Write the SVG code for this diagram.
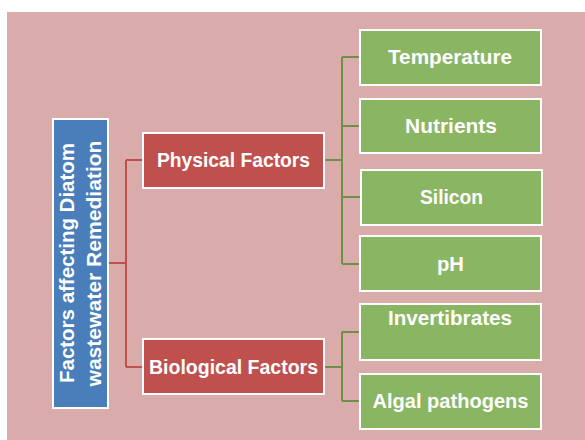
<svg xmlns="http://www.w3.org/2000/svg" width="585" height="440" viewBox="0 0 585 440">
<style>
.t{font-family:"Liberation Sans",Arial,sans-serif;font-weight:bold;font-size:20px;fill:#fff;text-anchor:middle}
.box{stroke:#fff;stroke-width:2}
.red{fill:#C0504D}
.grn{fill:#8AB563}
.blu{fill:#4A7EBB}
.cr{fill:none;stroke:#C0504D;stroke-width:2}
.cg{fill:none;stroke:#6F8F46;stroke-width:2}
</style>
<rect x="0" y="0" width="585" height="440" fill="#fff"/>
<rect x="7" y="12" width="578" height="428" fill="#D9ABAB"/>
<g id="connectors">
<path class="cr" d="M108,263 H126 M126,160 V367 M126,160 H143 M126,367 H143"/>
<path class="cg" d="M324,160 H342 M342,57 V264 M342,57 H360 M342,126 H360 M342,197 H361 M342,264 H360"/>
<path class="cg" d="M324,367 H342 M342,332 V401 M342,332 H360 M342,401 H360"/>
</g>
<g id="root">
<rect class="box blu" x="53" y="119" width="55" height="289"/>
<text class="t" transform="translate(73.5,263) rotate(-90)" textLength="240" lengthAdjust="spacingAndGlyphs">Factors affecting Diatom</text>
<text class="t" transform="translate(100.5,263.5) rotate(-90)" textLength="246" lengthAdjust="spacingAndGlyphs">wastewater Remediation</text>
</g>
<g id="physical">
<rect class="box red" x="143" y="133" width="181" height="55"/>
<text class="t" x="233.5" y="167" textLength="153" lengthAdjust="spacingAndGlyphs">Physical Factors</text>
</g>
<g id="biological">
<rect class="box red" x="143" y="339" width="181" height="55"/>
<text class="t" x="233.5" y="374" textLength="169" lengthAdjust="spacingAndGlyphs">Biological Factors</text>
</g>
<g id="temperature">
<rect class="box grn" x="360" y="30" width="181" height="55"/>
<text class="t" x="450" y="64" textLength="124" lengthAdjust="spacingAndGlyphs">Temperature</text>
</g>
<g id="nutrients">
<rect class="box grn" x="360" y="99" width="181" height="54"/>
<text class="t" x="451" y="133" textLength="92" lengthAdjust="spacingAndGlyphs">Nutrients</text>
</g>
<g id="silicon">
<rect class="box grn" x="361" y="170" width="181" height="55"/>
<text class="t" x="451.5" y="204" textLength="63" lengthAdjust="spacingAndGlyphs">Silicon</text>
</g>
<g id="ph">
<rect class="box grn" x="360" y="236" width="181" height="55"/>
<text class="t" x="450.5" y="271" textLength="27" lengthAdjust="spacingAndGlyphs">pH</text>
</g>
<g id="invertibrates">
<rect class="box grn" x="360" y="304" width="181" height="56"/>
<text class="t" x="450" y="325" textLength="124" lengthAdjust="spacingAndGlyphs">Invertibrates</text>
</g>
<g id="algal">
<rect class="box grn" x="360" y="374" width="181" height="55"/>
<text class="t" x="450.5" y="408" textLength="156" lengthAdjust="spacingAndGlyphs">Algal pathogens</text>
</g>
</svg>
